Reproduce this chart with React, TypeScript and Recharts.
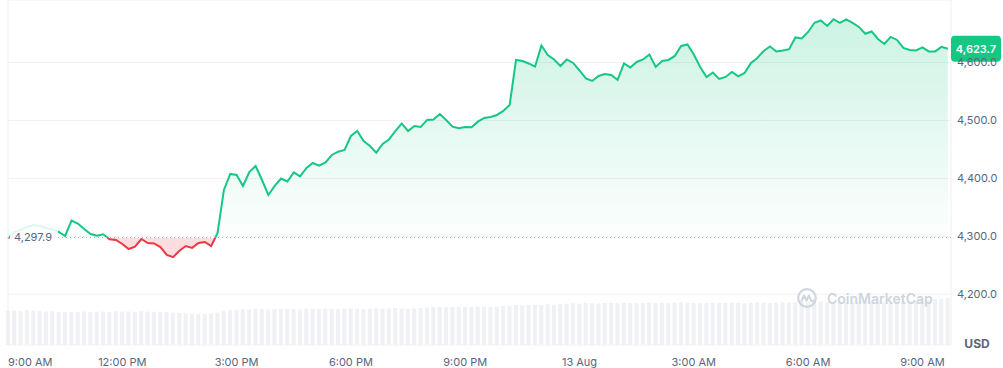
import {
  ComposedChart,
  Area,
  Bar,
  XAxis,
  YAxis,
  CartesianGrid,
  ReferenceLine,
} from 'recharts';

// price every 10 minutes, starting 9:00 AM
const prices = [
  4296, 4307.4, 4310.9, 4316, 4319.5, 4317.8, 4314.3, 4311.7, 4307.4, 4300.5,
  4327, 4322, 4312.6, 4304, 4301, 4303.5, 4294.8, 4293.6, 4286.7, 4278,
  4282, 4295.3, 4288.4, 4287.6, 4281.5, 4268, 4264, 4275.1, 4283.2, 4280,
  4288.4, 4290.2, 4283.2, 4305.7, 4380, 4407.6, 4405.9, 4386.9, 4411, 4421.4,
  4397.2, 4371.3, 4386.9, 4399.8, 4394.6, 4410.2, 4403.3, 4418, 4426.6, 4421.9,
  4427.5, 4440.4, 4446.1, 4449, 4473.2, 4481.8, 4464.6, 4456, 4444.4, 4459.4,
  4467.2, 4481.8, 4494.8, 4481.8, 4490.5, 4488.8, 4500.9, 4501.7, 4511.2, 4500.9,
  4489.3, 4486.5, 4488.8, 4488.2, 4497.9, 4504.3, 4506, 4509.5, 4516.4, 4526.8,
  4604.5, 4602.7, 4598.4, 4592.9, 4629.5, 4613.1, 4605.3, 4594.1, 4605.3, 4599.3,
  4586.3, 4572.5, 4568.2, 4576.8, 4580.3, 4578.6, 4569.9, 4598.4, 4591.5, 4601,
  4605.3, 4614, 4592.4, 4602.7, 4604.5, 4611.4, 4628.6, 4631.2, 4614, 4592.4,
  4575.1, 4582.9, 4571.7, 4575.1, 4583.7, 4576.3, 4582, 4599.3, 4607.9, 4620,
  4627.8, 4619.2, 4620.9, 4623, 4643.3, 4641.6, 4652.8, 4668.7, 4672.7, 4663.2,
  4674.8, 4668.4, 4674.4, 4668.4, 4661.5, 4649.7, 4653.7, 4640.7, 4632.1, 4644.2,
  4639, 4625.2, 4621.7, 4620.9, 4626.1, 4619.2, 4619.2, 4627, 4623.7,
];

const volumes = [
  9.9, 10.0, 9.8, 10.1, 10.0, 9.9, 9.7, 9.8, 9.6,
  9.5, 9.6, 9.6, 9.7, 9.5, 9.6,
  9.7, 9.6, 9.8, 9.7, 9.7, 9.6, 9.8, 9.7, 9.6, 9.7, 9.5, 9.4,
  9.3, 9.2, 9.1, 9.0, 9.1, 9.2, 9.4,
  9.8, 10.1, 10.2,
  10.4, 10.3, 10.5, 10.4, 10.3, 10.4, 10.5, 10.4, 10.4, 10.3,
  10.5, 10.5, 10.4, 10.6, 10.5, 10.4, 10.5, 10.6, 10.5, 10.4,
  10.5, 10.6, 10.5, 10.6, 10.7, 10.6, 10.5, 10.6, 10.7,
  10.8, 10.9, 11.0, 10.9, 11.0, 11.1, 11.0, 11.0, 11.1, 11.1, 11.0, 11.1,
  11.3, 11.4, 11.6, 11.5, 11.6, 11.7, 11.6, 11.8, 11.7, 11.8,
  12.0, 12.1, 12.0, 12.2, 12.1, 12.0, 12.2, 12.2, 12.1, 12.3,
  12.2, 12.1, 12.2, 12.3, 12.2, 12.2, 12.1, 12.3, 12.4, 12.3,
  12.2, 12.1, 12.2, 12.3, 12.2, 12.2, 12.3, 12.2, 12.1, 12.2,
  12.3, 12.3, 12.2, 12.3, 12.4, 12.3, 12.4,
  12.5, 12.4, 12.5, 12.6, 12.5, 12.5, 12.6, 12.4, 12.5, 12.6, 12.5, 12.6, 12.5, 12.4, 12.6, 12.7,
  12.8, 12.9, 12.8, 13.0, 13.1, 13.2, 13.4, 13.6,
];

const tickMinutes = [0, 180, 360, 540, 720, 900, 1080, 1260, 1440];
const tickLabels = ['9:00 AM', '12:00 PM', '3:00 PM', '6:00 PM', '9:00 PM', '13 Aug', '3:00 AM', '6:00 AM', '9:00 AM'];
const priceTicks = [4200, 4300, 4400, 4500, 4600];
const openPrice = 4297.9;
const STEP = 10;

const GREEN = '#16c784';
const RED = '#ea3943';
const GREY = '#58667e';
const FONT = 'Inter, "Noto Sans", sans-serif';

const data = prices.map((price, i) => ({ t: i * STEP, price, vol: volumes[i] }));
const lastPrice = prices[prices.length - 1];

/** 4297.9 -> "4,297.9" */
const fmt = (n: number) =>
  n.toLocaleString('en-US', { minimumFractionDigits: 1, maximumFractionDigits: 1 });

// where the open price sits inside the line's bounding box
const hi = Math.max(...prices);
const lo = Math.min(...prices);
const split = (hi - openPrice) / (hi - lo);

function TimeTick({ x, y, payload, index }: any) {
  const label = tickLabels[tickMinutes.indexOf(payload.value)];
  return (
    <text
      x={x}
      y={y}
      dy="0.71em"
      textAnchor={index === 0 ? 'start' : 'middle'}
      fill={GREY}
      fontSize={11}
      fontFamily={FONT}
    >
      {label}
    </text>
  );
}

function OpenLabel({ viewBox }: any) {
  const { x, y } = viewBox;
  return (
    <g>
      <rect x={x + 2} y={y - 14} width={48} height={28} fill="#fff" fillOpacity={0.85} />
      <text x={x + 6} y={y} dy="0.35em" fill={GREY} fontSize={11} fontFamily={FONT}>
        {fmt(openPrice)}
      </text>
    </g>
  );
}

function LastTag({ viewBox }: any) {
  const { x, y, width } = viewBox;
  const left = x + width;
  return (
    <g>
      <rect x={left} y={y - 13} width={50} height={26} rx={4} fill={GREEN} />
      <text
        x={left + 25}
        y={y}
        dy="0.35em"
        textAnchor="middle"
        fill="#fff"
        fontSize={11}
        fontWeight={600}
        fontFamily={FONT}
      >
        {fmt(lastPrice)}
      </text>
    </g>
  );
}

function Watermark() {
  return (
    <div
      style={{
        position: 'absolute',
        left: 797,
        top: 288,
        height: 20,
        display: 'flex',
        alignItems: 'center',
        gap: 10,
        color: '#cfd5de',
        fontFamily: FONT,
        fontSize: 14,
        fontWeight: 600,
        pointerEvents: 'none',
      }}
    >
      <svg width={20} height={20} viewBox="0 0 20 20">
        <circle cx={10} cy={10} r={8.8} fill="none" stroke="#cfd5de" strokeWidth={2.2} />
        <path
          d="M4.5 13 L7 7.5 L9.5 12.5 L12 7.5 L14 12.5 Q15 14.5 16.5 12.5"
          fill="none"
          stroke="#cfd5de"
          strokeWidth={2}
          strokeLinejoin="round"
          strokeLinecap="round"
        />
      </svg>
      <span>CoinMarketCap</span>
    </div>
  );
}

export default function App() {
  return (
    <div style={{ position: 'absolute', left: 0, top: 0, width: 1003, height: 368, background: '#fff' }}>
      <ComposedChart
        width={1003}
        height={368}
        data={data}
        margin={{ top: 0, right: 0, bottom: 0, left: 8 }}
        barCategoryGap={1}
      >
        <defs>
          <linearGradient id="fillSplit" x1="0" y1="0" x2="0" y2="1">
            <stop offset={0} stopColor={GREEN} stopOpacity={0.36} />
            <stop offset={split} stopColor={GREEN} stopOpacity={0.02} />
            <stop offset={split} stopColor={RED} stopOpacity={0.28} />
            <stop offset={1} stopColor={RED} stopOpacity={0.28} />
          </linearGradient>
          <linearGradient id="strokeSplit" x1="0" y1="0" x2="0" y2="1">
            <stop offset={split} stopColor={GREEN} />
            <stop offset={split} stopColor={RED} />
          </linearGradient>
        </defs>

        <CartesianGrid yAxisId="price" vertical={false} stroke="#eff2f5" />

        <XAxis
          dataKey="t"
          type="number"
          domain={[0, 1485]}
          ticks={tickMinutes}
          interval={0}
          tick={<TimeTick />}
          tickLine={false}
          axisLine={false}
          tickSize={0}
          tickMargin={13}
          height={23}
        />
        <YAxis
          yAxisId="price"
          orientation="right"
          domain={[4112.3, 4708]}
          ticks={priceTicks}
          tickFormatter={fmt}
          width={52}
          tickLine={false}
          axisLine={false}
          tickSize={0}
          tickMargin={6}
          tick={{ fill: GREY, fontSize: 11, fontFamily: FONT }}
          label={{ value: 'USD', position: 'insideBottom', offset: -3, fill: GREY, fontSize: 12, fontWeight: 700, fontFamily: FONT }}
        />
        <YAxis yAxisId="vol" hide domain={[0, 100]} />

        <Bar yAxisId="vol" dataKey="vol" fill="#eff1f5" isAnimationActive={false} />

        {/* plot edges */}
        <ReferenceLine yAxisId="price" x={0} stroke="#eceff2" />
        <ReferenceLine yAxisId="price" x={1485} stroke="#eceff2" />

        <Area
          yAxisId="price"
          type="linear"
          dataKey="price"
          baseValue={openPrice}
          stroke="url(#strokeSplit)"
          strokeWidth={2}
          fill="url(#fillSplit)"
          dot={false}
          activeDot={false}
          isAnimationActive={false}
        />

        <ReferenceLine yAxisId="price" y={openPrice} stroke="#a6b0c3" strokeDasharray="1 3" label={<OpenLabel />} />
        <ReferenceLine yAxisId="price" y={lastPrice} stroke="none" label={<LastTag />} />
      </ComposedChart>
      <Watermark />
    </div>
  );
}
